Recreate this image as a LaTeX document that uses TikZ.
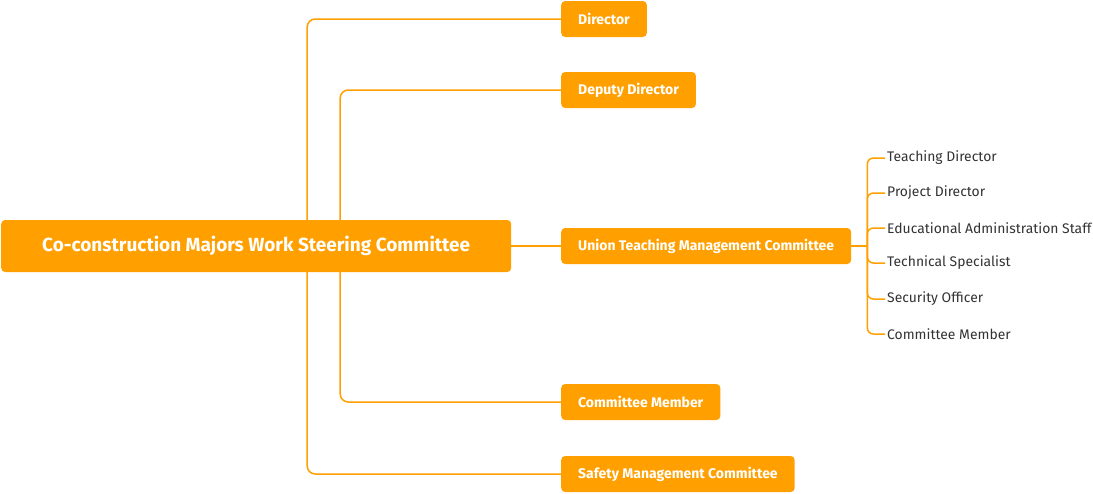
\documentclass[tikz,border=0pt]{standalone}
\usepackage{fontspec}
\setmainfont{Fira Sans}
\definecolor{boxorange}{RGB}{255,160,0}
\definecolor{itemgray}{RGB}{51,51,51}
\tikzset{
  box/.style={fill=boxorange,text=white,rounded corners=4pt,minimum height=36pt,inner xsep=17pt,font=\fontsize{14}{16}\selectfont\bfseries,anchor=west},
  rootbox/.style={box,minimum height=52pt,inner xsep=0pt,minimum width=510pt,font=\fontsize{19}{22}\selectfont\bfseries},
  item/.style={text=itemgray,inner xsep=2pt,font=\fontsize{13.9}{16}\selectfont,anchor=west},
  link/.style={draw=boxorange,line width=1.5pt,rounded corners=8pt}
}
\begin{document}
\begin{tikzpicture}[x=1pt,y=1pt]
    \useasboundingbox (0,0) rectangle (1093,-493);
    % main boxes
    \node[rootbox] (root) at (1,-246) {Co-construction Majors Work Steering Committee};
    \node[box] (dir) at (561,-19) {Director};
    \node[box] (dep) at (561,-90) {Deputy Director};
    \node[box] (uni) at (561,-246) {Union Teaching Management Committee};
    \node[box] (mem) at (561,-402) {Committee Member};
    \node[box] (saf) at (561,-474) {Safety Management Committee};
    \draw[link] ([xshift=51pt]root.north) |- (dir.west);
    \draw[link] ([xshift=84pt]root.north) |- (dep.west);
    \draw[link] (root.east) -- (uni.west);
    \draw[link] ([xshift=84pt]root.south) |- (mem.west);
    \draw[link] ([xshift=51pt]root.south) |- (saf.west);
    % members of the union committee
    \node[item] (teach) at (885,-158) {Teaching Director};
    \node[item] (proj) at (885,-193) {Project Director};
    \node[item] (edu) at (885,-228) {Educational Administration Staff};
    \node[item] (tech) at (885,-263) {Technical Specialist};
    \node[item] (sec) at (885,-299) {Security Officer};
    \node[item] (cmem) at (885,-334) {Committee Member};
    \draw[link] (uni.east) -- ++(16,0) coordinate (hub);
    \draw[link,rounded corners=6pt] (hub) |- (teach.west);
    \draw[link,rounded corners=6pt] (hub) |- (proj.west);
    \draw[link,rounded corners=6pt] (hub) |- (edu.west);
    \draw[link,rounded corners=6pt] (hub) |- (tech.west);
    \draw[link,rounded corners=6pt] (hub) |- (sec.west);
    \draw[link,rounded corners=6pt] (hub) |- (cmem.west);
\end{tikzpicture}
\end{document}
